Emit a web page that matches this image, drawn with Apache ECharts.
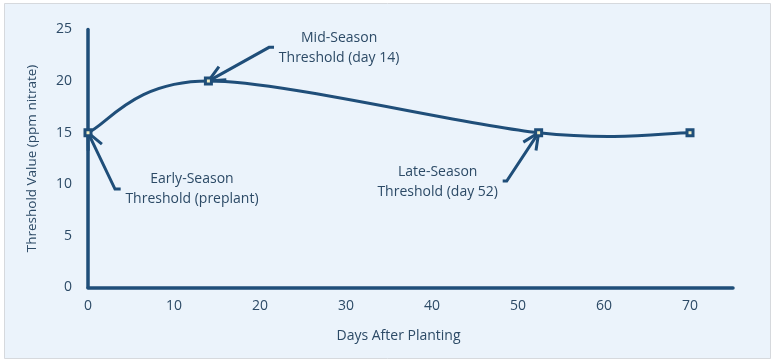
<!DOCTYPE html>
<html>
<head>
<meta charset="utf-8">
<script src="https://cdn.jsdelivr.net/npm/echarts@6/dist/echarts.min.js"></script>
<style>
html,body{margin:0;padding:0;background:#fff;}
#c{width:775px;height:364px;}
</style>
</head>
<body>
<div id="c"></div>
<script>
// Data
const days = [0, 14, 52.4, 70];
const thresholds = [15, 20, 15, 15];
const xTicks = [0, 10, 20, 30, 40, 50, 60, 70];
const yTicks = [0, 5, 10, 15, 20, 25];
// Annotations: target point index, elbow and tail in data units, label centre in data units
const annLabels = ['Early-Season\nThreshold (preplant)', 'Mid-Season\nThreshold (day 14)', 'Late-Season\nThreshold (day 52)'];
const annTarget = [0, 1, 2];
const annElbow = [[3.14, 9.54], [21.05, 23.27], [48.69, 10.32]];
const annTail = [[3.80, 9.54], [21.63, 23.27], [48.22, 10.32]];
const annText = [[12.09, 9.5], [29.2, 23.2], [40.66, 10.2]];

const NAVY = '#1F4E79';
const TXT = '#2C4A66';
const FONT = '"Open Sans"';

const chart = echarts.init(document.getElementById('c'), null, {renderer: 'canvas'});
const baseGraphic = [{
  type: 'rect', z: -10, silent: true,
  shape: {x: 4.5, y: 3.5, width: 766, height: 355},
  style: {fill: '#EBF3FB', stroke: '#D6D9DD', lineWidth: 1}
}];
const option = {
  animation: false,
  backgroundColor: '#ffffff',
  grid: {left: 88, right: 42, top: 29.5, bottom: 76.5, containLabel: false},
  xAxis: {
    type: 'value', min: 0, max: 75, interval: 10,
    name: 'Days After Planting', nameLocation: 'middle', nameGap: 42,
    nameTextStyle: {color: TXT, fontFamily: FONT, fontSize: 14, padding: [0, 24, 0, 0]},
    axisLine: {show: true, lineStyle: {color: NAVY, width: 3.5}},
    axisTick: {show: false},
    splitLine: {show: false},
    axisLabel: {color: TXT, fontFamily: FONT, fontSize: 14, margin: 12,
      formatter: v => xTicks.indexOf(v) >= 0 ? String(v) : ''}
  },
  yAxis: {
    type: 'value', min: 0, max: 25, interval: 5,
    name: 'Threshold Value (ppm nitrate)', nameLocation: 'middle', nameGap: 49,
    nameTextStyle: {color: TXT, fontFamily: FONT, fontSize: 13.5},
    axisLine: {show: true, lineStyle: {color: NAVY, width: 3.5}},
    axisTick: {show: false},
    splitLine: {show: false},
    axisLabel: {color: TXT, fontFamily: FONT, fontSize: 14, margin: 16,
      formatter: v => yTicks.indexOf(v) >= 0 ? String(v) : ''}
  },
  series: [{
    type: 'line',
    data: days.map((d, i) => [d, thresholds[i]]),
    symbol: 'rect', symbolSize: 6,
    lineStyle: {color: NAVY, width: 0, opacity: 0},
    itemStyle: {color: '#F3EFC4', borderColor: NAVY, borderWidth: 3},
    z: 10
  }],
  graphic: baseGraphic
};
chart.setOption(option);

function px(p) { return chart.convertToPixel({gridIndex: 0}, p); }
const g = baseGraphic.slice();

// Smoothed curve (Catmull-Rom style, tension 1/6) through the data points, in pixel space
const P = days.map((d, i) => px([d, thresholds[i]]));
for (let i = 0; i < P.length - 1; i++) {
  const p0 = P[Math.max(i - 1, 0)], p1 = P[i], p2 = P[i + 1], p3 = P[Math.min(i + 2, P.length - 1)];
  g.push({
    type: 'bezierCurve', silent: true, z: 2,
    shape: {
      x1: p1[0], y1: p1[1], x2: p2[0], y2: p2[1],
      cpx1: p1[0] + (p2[0] - p0[0]) / 6, cpy1: p1[1] + (p2[1] - p0[1]) / 6,
      cpx2: p2[0] - (p3[0] - p1[0]) / 6, cpy2: p2[1] - (p3[1] - p1[1]) / 6
    },
    style: {stroke: NAVY, lineWidth: 3, fill: null}
  });
}

for (let i = 0; i < annLabels.length; i++) {
  const tip = P[annTarget[i]];
  const elbow = px(annElbow[i]);
  const tail = px(annTail[i]);
  const tc = px(annText[i]);
  g.push({
    type: 'polyline', silent: true, z: 5,
    shape: {points: [tail, elbow, tip]},
    style: {stroke: NAVY, lineWidth: 3, fill: null, lineJoin: 'miter'}
  });
  const ang = Math.atan2(elbow[1] - tip[1], elbow[0] - tip[0]);
  const L = 18, a = 25 * Math.PI / 180;
  const w1 = [tip[0] + L * Math.cos(ang + a), tip[1] + L * Math.sin(ang + a)];
  const w2 = [tip[0] + L * Math.cos(ang - a), tip[1] + L * Math.sin(ang - a)];
  g.push({
    type: 'polyline', silent: true, z: 5,
    shape: {points: [w1, tip, w2]},
    style: {stroke: NAVY, lineWidth: 3, fill: null}
  });
  g.push({
    type: 'text', silent: true, z: 6,
    x: tc[0], y: tc[1],
    style: {text: annLabels[i], fill: TXT, font: '14px ' + FONT,
      align: 'center', verticalAlign: 'middle', lineHeight: 20}
  });
}
chart.setOption({graphic: g});
</script>
</body>
</html>
